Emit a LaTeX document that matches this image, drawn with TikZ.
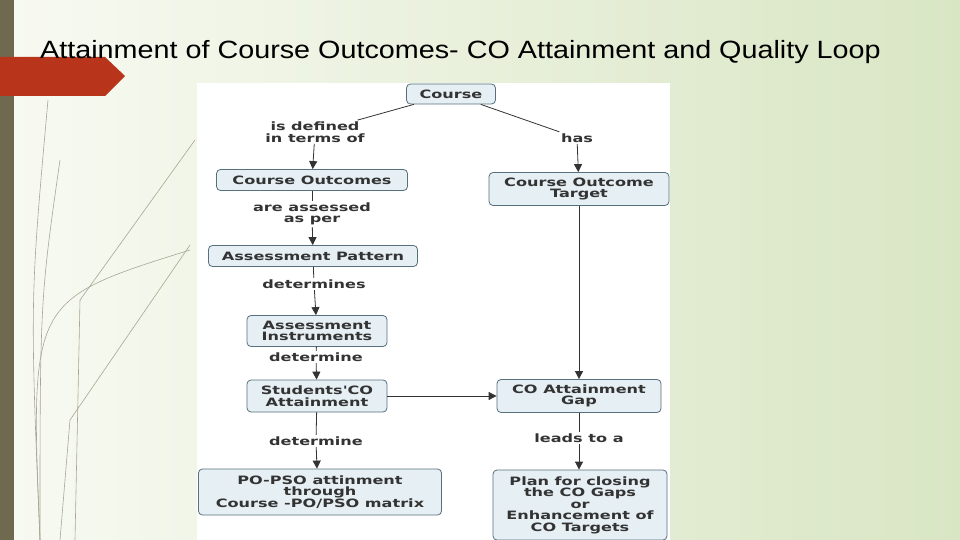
\documentclass[tikz,border=0pt]{standalone}
\usepackage{fontspec}
\setmainfont[FakeStretch=1.15]{Liberation Sans}
\newfontfamily\mapfont[FakeStretch=1.4]{DejaVu Sans}
\usetikzlibrary{arrows.meta}
\definecolor{bgA}{HTML}{F8FAF2}
\definecolor{bgB}{HTML}{D9E6C4}
\definecolor{band}{HTML}{6F6A4F}
\definecolor{redarr}{HTML}{B8341B}
\definecolor{nodefill}{HTML}{E6EFF3}
\definecolor{nodedraw}{HTML}{56707E}
\definecolor{txt}{HTML}{333333}
\begin{document}
\begin{tikzpicture}[x=1pt,y=-1pt,
  cbox/.style={draw=nodedraw,fill=nodefill,rounded corners=4pt,line width=0.8pt,
    font=\mapfont\bfseries\fontsize{11.5}{11.5}\selectfont,text=txt,align=center,inner sep=0pt},
  lbl/.style={fill=white,font=\mapfont\bfseries\fontsize{11.5}{11.5}\selectfont,text=txt,align=center,inner sep=1.5pt},
  ln/.style={draw=txt,line width=0.8pt},
  ar/.style={ln,-{Triangle[length=8pt,width=8pt]}}]
\useasboundingbox (0,0) rectangle (960,540);
\shade[left color=bgA,right color=bgB] (0,0) rectangle (960,540);
\fill[band] (0,0) rectangle (14,540);
\foreach \a/\b/\c in {48/100/30,60/160/40,190/250/30}{
  \draw[band!60,line width=0.6pt] (\a,\b) .. controls (\c,300) .. (40,540);}
\draw[band!60,line width=0.6pt] (190,245) -- (70,420) -- (60,540);
\draw[band!60,line width=0.6pt] (195,140) -- (80,300) -- (75,540);
\fill[redarr] (0,57) -- (105,57) -- (125,76) -- (105,96) -- (0,96) -- cycle;
\node[anchor=west,font=\fontsize{25}{25}\selectfont,text=black,inner sep=0pt] (title) at (40,52) {Attainment of Course Outcomes- CO Attainment and Quality Loop};
\fill[white] (197,83) rectangle (670,540);
\node[cbox,minimum width=89pt,minimum height=20pt] (course) at (451,94) {Course};
\node[lbl] (l1) at (315,132) {is defined\\in terms of};
\node[lbl] (l2) at (577,138) {has};
\node[cbox,minimum width=191pt,minimum height=21pt] (co) at (312,180) {Course Outcomes};
\node[cbox,minimum width=180pt,minimum height=33pt] (tgt) at (579,189) {Course Outcome\\Target};
\node[lbl] (l3) at (312,214) {are assessed\\as per};
\node[cbox,minimum width=209pt,minimum height=21pt] (ap) at (313,256) {Assessment Pattern};
\node[lbl] (l4) at (314,284) {determines};
\node[cbox,minimum width=140pt,minimum height=31pt] (ai) at (317,331) {Assessment\\Instruments};
\node[lbl] (l5) at (316,357) {determine};
\node[cbox,minimum width=140pt,minimum height=32pt] (sco) at (317,396) {Students'CO\\Attainment};
\node[cbox,minimum width=164pt,minimum height=33pt] (gap) at (579,396) {CO Attainment\\Gap};
\node[lbl] (l6) at (316,441) {determine};
\node[lbl] (l7) at (579,438) {leads to a};
\node[cbox,minimum width=243pt,minimum height=46pt] (po) at (320,492) {PO-PSO attinment\\through\\Course -PO/PSO matrix};
\node[cbox,minimum width=174pt,minimum height=70pt] (plan) at (580,505) {Plan for closing\\the CO Gaps\\or\\Enhancement of\\CO Targets};
\draw[ln] (course) -- (l1); \draw[ar] (l1) -- (co);
\draw[ln] (course) -- (l2); \draw[ar] (l2) -- (tgt);
\draw[ln] (co) -- (l3); \draw[ar] (l3) -- (ap);
\draw[ln] (ap) -- (l4); \draw[ar] (l4) -- (ai);
\draw[ln] (ai) -- (l5); \draw[ar] (l5) -- (sco);
\draw[ln] (sco) -- (l6); \draw[ar] (l6) -- (sco.south |- po.north);
\draw[ar] (tgt) -- (gap);
\draw[ar] (sco) -- (gap);
\draw[ln] (gap) -- (l7); \draw[ar] (l7) -- (l7 |- plan.north);
\end{tikzpicture}
\end{document}
